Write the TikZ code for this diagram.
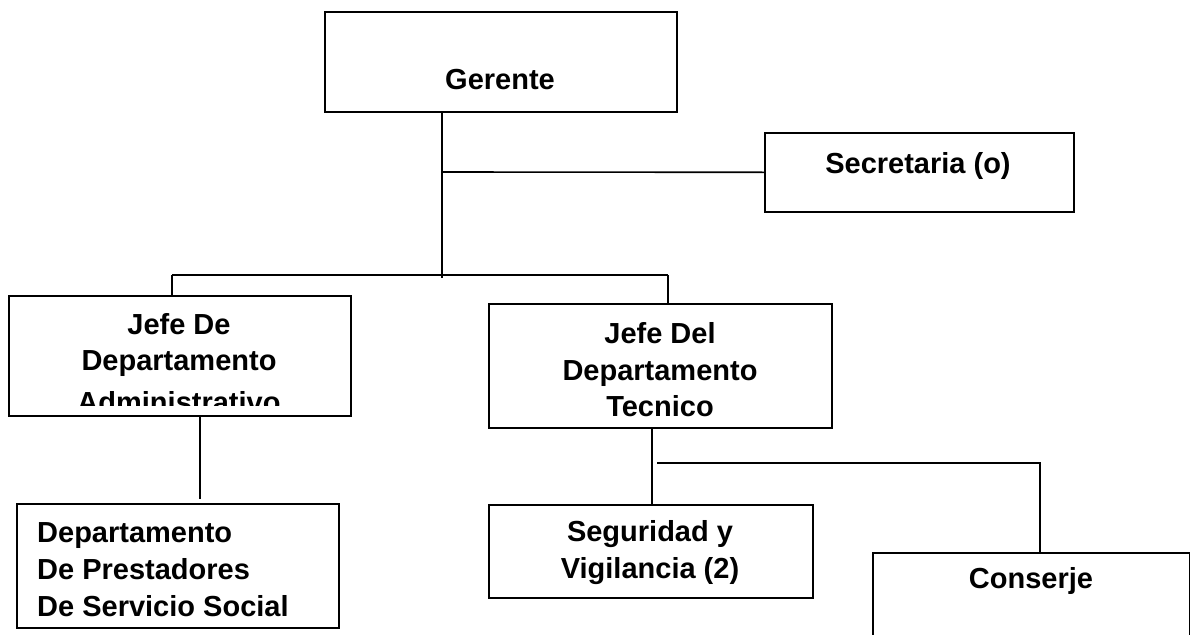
\documentclass[tikz,border=0pt]{standalone}
\usepackage{fontspec}
\setmainfont{Liberation Sans}
\begin{document}
\begin{tikzpicture}[x=1pt,y=-1pt,
  box/.style={draw=black,line width=1.6pt,rectangle,inner sep=0pt,anchor=north west},
  txt/.style={font=\bfseries\fontsize{29}{37}\selectfont,inner sep=0pt,anchor=base},
  txtl/.style={txt,anchor=base west},
  conn/.style={draw=black,line width=1.6pt}]
\useasboundingbox (0,0) rectangle (1190,634);
\clip (0,0) rectangle (1190,634);
\fill[white] (0,0) rectangle (1190,634);
% boxes
\node[box,minimum width=352pt,minimum height=100pt] (ger) at (324,11) {};
\node[box,minimum width=309pt,minimum height=79pt] (sec) at (764,132) {};
\node[box,minimum width=342pt,minimum height=120pt] (jda) at (8,295) {};
\node[box,minimum width=343pt,minimum height=124pt] (jdt) at (488,303) {};
\node[box,minimum width=322pt,minimum height=124pt] (dps) at (16,503) {};
\node[box,minimum width=324pt,minimum height=93pt] (seg) at (488,504) {};
\node[box,minimum width=317pt,minimum height=110pt] (con) at (872,552) {};
% texts
\node[txt] (tger) at (500,89) {Gerente};
\node[txt] (tsec) at (918,173) {Secretaria (o)};
\node[txt] (tjda1) at (179,334) {Jefe De};
\node[txt] (tjda2) at (179,370) {Departamento};
\begin{scope}
\clip (10,380) rectangle (348,405);
\node[txt] (tjda3) at (179,412) {Administrativo};
\end{scope}
\node[txt] (tjdt1) at (660,343) {Jefe Del};
\node[txt] (tjdt2) at (660,380) {Departamento};
\node[txt] (tjdt3) at (660,416) {Tecnico};
\node[txtl] (tdps1) at (37,542) {Departamento};
\node[txtl] (tdps2) at (37,579) {De Prestadores};
\node[txtl] (tdps3) at (37,616) {De Servicio Social};
\node[txt] (tseg1) at (650,541) {Seguridad y};
\node[txt] (tseg2) at (650,578) {Vigilancia (2)};
\node[txt] (tcon) at (1031,588) {Conserje};
% junction points
\coordinate (gdown) at (442,278);
\coordinate (secj) at (442,172);
\coordinate (busl) at (172,275);
\coordinate (busr) at (668,275);
\coordinate (adown) at (200,499);
\coordinate (tl) at (657,463);
\coordinate (tr) at (1040,463);
% connectors
\draw[conn] (ger.south -| gdown) -- (gdown);
\draw[conn] (secj) -- (sec.west);
\draw[conn] (busl) -- (busr);
\draw[conn] (busl) -- (jda.north -| busl);
\draw[conn] (busr) -- (jdt.north -| busr);
\draw[conn] (jda.south -| adown) -- (adown);
\draw[conn] (jdt.south -| 652,0) -- (seg.north -| 652,0);
\draw[conn] (tl) -- (tr) -- (con.north -| tr);
\end{tikzpicture}
\end{document}
